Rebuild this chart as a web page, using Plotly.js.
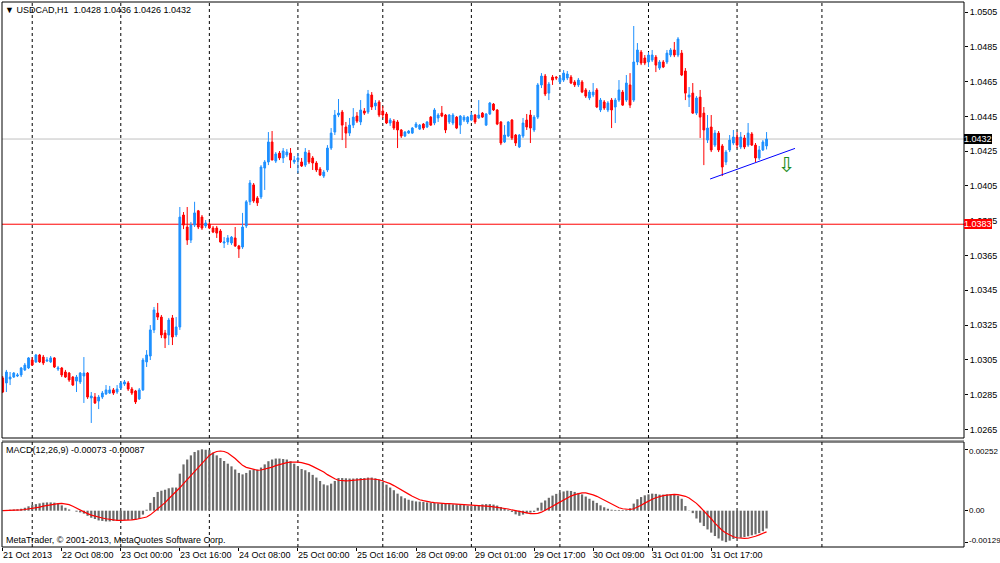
<!DOCTYPE html>
<html><head><meta charset="utf-8">
<script src="https://cdn.plot.ly/plotly-3.0.1.min.js"></script>
<style>html,body{margin:0;padding:0;background:#fff}#chart{width:1000px;height:563px}</style>
</head><body><div id="chart"></div>
<script>
// ---- USDCAD H1 candles (bar 0 = 21 Oct 2013 16:00) ----
const open = [
1.02946,1.02917,1.02940,1.02951,1.02957,1.02963,1.02992,1.03003,1.03049,1.03038,
1.03078,1.03066,1.03043,1.03038,1.03061,1.02997,1.03003,1.02980,1.02974,1.02951,
1.02928,1.02923,1.02957,1.02974,1.02831,1.02836,1.02813,1.02836,1.02854,1.02859,
1.02877,1.02865,1.02888,1.02911,1.02917,1.02882,1.02871,1.02825,1.02877,1.03038,
1.03072,1.03222,1.03319,1.03296,1.03204,1.03193,1.03291,1.03193,1.03239,1.03883,
1.03814,1.03739,1.03825,1.03907,1.03871,1.03820,1.03831,1.03808,1.03808,1.03791,
1.03722,1.03728,1.03722,1.03751,1.03705,1.03699,1.03820,1.03959,1.04056,1.03981,
1.03987,1.04153,1.04188,1.04303,1.04193,1.04239,1.04211,1.04228,1.04239,1.04188,
1.04199,1.04188,1.04170,1.04239,1.04211,1.04182,1.04147,1.04107,1.04142,1.04268,
1.04360,1.04458,1.04475,1.04389,1.04354,1.04400,1.04452,1.04418,1.04481,1.04475,
1.04573,1.04510,1.04533,1.04481,1.04464,1.04412,1.04423,1.04418,1.04372,1.04337,
1.04354,1.04354,1.04389,1.04377,1.04406,1.04389,1.04446,1.04412,1.04441,1.04469,
1.04458,1.04418,1.04412,1.04446,1.04400,1.04429,1.04418,1.04429,1.04458,1.04441,
1.04469,1.04400,1.04464,1.04521,1.04487,1.04418,1.04303,1.04337,1.04429,1.04343,
1.04274,1.04337,1.04429,1.04458,1.04372,1.04446,1.04631,1.04682,1.04584,1.04676,
1.04676,1.04648,1.04659,1.04671,1.04676,1.04648,1.04631,1.04648,1.04602,1.04556,
1.04573,1.04602,1.04487,1.04533,1.04487,1.04544,1.04504,1.04544,1.04590,1.04544,
1.04631,1.04544,1.04763,1.04820,1.04786,1.04763,1.04774,1.04791,1.04728,1.04763,
1.04763,1.04803,1.04832,1.04803,1.04814,1.04711,1.04561,1.04584,1.04469,1.04561,
1.04469,1.04314,1.04389,1.04285,1.04354,1.04280,1.04188,1.04257,1.04297,1.04331,
1.04274,1.04326,1.04285,1.04349,1.04285,1.04211,1.04257,1.04280];
const high = [
1.02957,1.02992,1.02980,1.02980,1.02974,1.03009,1.03032,1.03066,1.03066,1.03084,
1.03084,1.03078,1.03066,1.03072,1.03066,1.03015,1.03009,1.02992,1.02980,1.02957,
1.02963,1.02980,1.03066,1.02980,1.02865,1.02859,1.02848,1.02871,1.02905,1.02900,
1.02888,1.02905,1.02928,1.02934,1.02928,1.02894,1.02877,1.02888,1.03061,1.03106,
1.03250,1.03354,1.03377,1.03308,1.03222,1.03291,1.03308,1.03296,1.03929,1.03900,
1.03929,1.03843,1.03959,1.03912,1.03883,1.03854,1.03843,1.03820,1.03820,1.03802,
1.03756,1.03768,1.03762,1.03814,1.03711,1.03895,1.03969,1.04084,1.04067,1.03992,
1.04170,1.04199,1.04360,1.04366,1.04245,1.04251,1.04268,1.04262,1.04268,1.04222,
1.04239,1.04211,1.04268,1.04257,1.04222,1.04193,1.04159,1.04142,1.04285,1.04383,
1.04487,1.04550,1.04487,1.04418,1.04441,1.04498,1.04475,1.04544,1.04498,1.04602,
1.04590,1.04544,1.04544,1.04510,1.04475,1.04441,1.04435,1.04429,1.04377,1.04366,
1.04372,1.04389,1.04418,1.04406,1.04412,1.04423,1.04452,1.04498,1.04469,1.04510,
1.04464,1.04464,1.04469,1.04452,1.04458,1.04458,1.04452,1.04475,1.04464,1.04544,
1.04475,1.04469,1.04533,1.04527,1.04492,1.04423,1.04400,1.04423,1.04435,1.04349,
1.04349,1.04441,1.04464,1.04487,1.04458,1.04642,1.04699,1.04694,1.04648,1.04688,
1.04682,1.04682,1.04717,1.04711,1.04688,1.04659,1.04671,1.04659,1.04613,1.04602,
1.04642,1.04613,1.04556,1.04544,1.04538,1.04556,1.04556,1.04659,1.04602,1.04688,
1.04699,1.04970,1.04872,1.04832,1.04803,1.04820,1.04832,1.04803,1.04774,1.04774,
1.04832,1.04843,1.04878,1.04906,1.04832,1.04728,1.04619,1.04642,1.04567,1.04602,
1.04504,1.04458,1.04458,1.04372,1.04366,1.04291,1.04257,1.04343,1.04372,1.04360,
1.04360,1.04343,1.04412,1.04360,1.04297,1.04280,1.04314,1.04360];
const low = [
1.02859,1.02865,1.02905,1.02946,1.02951,1.02951,1.02986,1.02997,1.03015,1.03032,
1.03032,1.03020,1.03038,1.03032,1.03003,1.02986,1.02951,1.02946,1.02923,1.02900,
1.02865,1.02911,1.02802,1.02825,1.02687,1.02796,1.02767,1.02825,1.02848,1.02854,
1.02848,1.02854,1.02877,1.02900,1.02871,1.02848,1.02796,1.02819,1.02871,1.03009,
1.03049,1.03204,1.03279,1.03175,1.03118,1.03135,1.03135,1.03181,1.03222,1.03802,
1.03711,1.03722,1.03814,1.03802,1.03797,1.03808,1.03802,1.03779,1.03751,1.03722,
1.03693,1.03711,1.03711,1.03699,1.03636,1.03688,1.03808,1.03940,1.03953,1.03935,
1.03975,1.04027,1.04170,1.04199,1.04182,1.04199,1.04182,1.04216,1.04153,1.04176,
1.04124,1.04159,1.04159,1.04176,1.04142,1.04130,1.04107,1.04096,1.04130,1.04257,
1.04343,1.04446,1.04314,1.04268,1.04337,1.04383,1.04412,1.04400,1.04458,1.04464,
1.04487,1.04487,1.04446,1.04441,1.04406,1.04395,1.04372,1.04268,1.04326,1.04331,
1.04349,1.04349,1.04383,1.04372,1.04372,1.04383,1.04395,1.04400,1.04418,1.04446,
1.04354,1.04406,1.04400,1.04377,1.04349,1.04418,1.04406,1.04423,1.04406,1.04435,
1.04441,1.04395,1.04458,1.04481,1.04400,1.04285,1.04297,1.04331,1.04314,1.04280,
1.04268,1.04326,1.04372,1.04297,1.04360,1.04435,1.04613,1.04567,1.04544,1.04631,
1.04659,1.04636,1.04648,1.04659,1.04636,1.04619,1.04619,1.04584,1.04556,1.04544,
1.04561,1.04498,1.04475,1.04487,1.04475,1.04383,1.04412,1.04533,1.04510,1.04533,
1.04498,1.04533,1.04745,1.04745,1.04745,1.04734,1.04763,1.04705,1.04717,1.04728,
1.04751,1.04791,1.04791,1.04791,1.04682,1.04544,1.04504,1.04464,1.04458,1.04326,
1.04170,1.04297,1.04245,1.04274,1.04245,1.04107,1.04170,1.04245,1.04285,1.04268,
1.04262,1.04262,1.04274,1.04280,1.04188,1.04199,1.04251,1.04260];
const close = [
1.02865,1.02980,1.02951,1.02974,1.02963,1.03003,1.03020,1.03061,1.03020,1.03078,
1.03038,1.03032,1.03049,1.03061,1.03009,1.03003,1.02963,1.02951,1.02934,1.02905,
1.02951,1.02974,1.02974,1.02836,1.02842,1.02802,1.02836,1.02859,1.02877,1.02877,
1.02859,1.02882,1.02917,1.02923,1.02882,1.02859,1.02808,1.02877,1.03049,1.03078,
1.03222,1.03337,1.03296,1.03193,1.03175,1.03279,1.03181,1.03239,1.03871,1.03825,
1.03739,1.03825,1.03895,1.03814,1.03808,1.03837,1.03808,1.03785,1.03779,1.03728,
1.03728,1.03751,1.03756,1.03705,1.03688,1.03814,1.03959,1.04067,1.03964,1.03953,
1.04159,1.04188,1.04303,1.04199,1.04234,1.04211,1.04251,1.04245,1.04199,1.04199,
1.04211,1.04165,1.04245,1.04188,1.04182,1.04142,1.04113,1.04130,1.04268,1.04354,
1.04458,1.04469,1.04400,1.04354,1.04400,1.04446,1.04423,1.04487,1.04469,1.04579,
1.04504,1.04527,1.04458,1.04458,1.04412,1.04429,1.04383,1.04372,1.04337,1.04360,
1.04366,1.04383,1.04406,1.04400,1.04383,1.04418,1.04400,1.04487,1.04458,1.04452,
1.04372,1.04458,1.04458,1.04383,1.04452,1.04446,1.04446,1.04458,1.04418,1.04458,
1.04446,1.04464,1.04527,1.04487,1.04406,1.04297,1.04343,1.04418,1.04326,1.04297,
1.04343,1.04412,1.04389,1.04383,1.04446,1.04631,1.04682,1.04579,1.04636,1.04659,
1.04671,1.04671,1.04699,1.04694,1.04642,1.04631,1.04659,1.04590,1.04567,1.04590,
1.04590,1.04504,1.04544,1.04498,1.04527,1.04487,1.04544,1.04602,1.04515,1.04642,
1.04515,1.04763,1.04832,1.04757,1.04757,1.04803,1.04803,1.04745,1.04763,1.04734,
1.04814,1.04832,1.04803,1.04895,1.04688,1.04584,1.04573,1.04469,1.04556,1.04446,
1.04372,1.04383,1.04257,1.04354,1.04257,1.04159,1.04245,1.04314,1.04331,1.04285,
1.04331,1.04274,1.04354,1.04285,1.04211,1.04257,1.04303,1.04320];

// ---- MACD(12,26,9): histogram (main) and signal ----
const macdMain = [
0.00002,0.00003,0.00004,0.00005,0.00006,0.00008,0.00012,0.00018,0.00023,0.00027,
0.00030,0.00033,0.00034,0.00034,0.00033,0.00029,0.00022,0.00012,0.00005,0.00000,
-0.00004,-0.00007,-0.00012,-0.00021,-0.00029,-0.00034,-0.00040,-0.00042,-0.00044,-0.00044,
-0.00042,-0.00041,-0.00040,-0.00038,-0.00038,-0.00037,-0.00037,-0.00033,-0.00016,0.00004,
0.00032,0.00056,0.00077,0.00082,0.00086,0.00092,0.00095,0.00095,0.00152,0.00190,
0.00210,0.00227,0.00241,0.00248,0.00252,0.00250,0.00248,0.00238,0.00227,0.00216,
0.00204,0.00193,0.00182,0.00169,0.00155,0.00149,0.00155,0.00166,0.00169,0.00169,
0.00177,0.00190,0.00203,0.00210,0.00214,0.00214,0.00212,0.00210,0.00203,0.00193,
0.00182,0.00171,0.00166,0.00158,0.00147,0.00136,0.00122,0.00108,0.00104,0.00111,
0.00122,0.00134,0.00134,0.00133,0.00132,0.00132,0.00133,0.00134,0.00134,0.00136,
0.00136,0.00133,0.00127,0.00118,0.00107,0.00095,0.00084,0.00070,0.00059,0.00051,
0.00045,0.00041,0.00038,0.00037,0.00036,0.00034,0.00033,0.00032,0.00030,0.00029,
0.00029,0.00027,0.00026,0.00026,0.00025,0.00023,0.00021,0.00019,0.00021,0.00023,
0.00026,0.00027,0.00027,0.00025,0.00021,0.00015,0.00010,0.00004,-0.00005,-0.00015,
-0.00021,-0.00016,-0.00011,-0.00008,-0.00005,0.00012,0.00033,0.00042,0.00053,0.00062,
0.00069,0.00074,0.00079,0.00082,0.00081,0.00077,0.00073,0.00067,0.00058,0.00049,
0.00041,0.00032,0.00022,0.00014,0.00008,0.00004,0.00003,0.00003,0.00003,0.00004,
0.00010,0.00029,0.00047,0.00056,0.00063,0.00067,0.00070,0.00069,0.00066,0.00066,
0.00067,0.00067,0.00066,0.00062,0.00049,0.00019,0.00001,-0.00010,-0.00032,-0.00049,
-0.00063,-0.00077,-0.00090,-0.00104,-0.00114,-0.00123,-0.00129,-0.00123,-0.00116,-0.00111,
-0.00111,-0.00108,-0.00105,-0.00101,-0.00097,-0.00092,-0.00084,-0.00073];
const macdSignal = [
0.00000,0.00000,0.00001,0.00001,0.00002,0.00003,0.00005,0.00007,0.00009,0.00012,
0.00015,0.00019,0.00022,0.00025,0.00027,0.00029,0.00030,0.00029,0.00025,0.00018,
0.00010,0.00002,-0.00005,-0.00012,-0.00018,-0.00023,-0.00027,-0.00030,-0.00033,-0.00036,
-0.00038,-0.00040,-0.00040,-0.00040,-0.00039,-0.00038,-0.00036,-0.00033,-0.00030,-0.00026,
-0.00017,-0.00005,0.00006,0.00018,0.00033,0.00049,0.00063,0.00077,0.00094,0.00111,
0.00128,0.00145,0.00162,0.00179,0.00197,0.00214,0.00227,0.00237,0.00243,0.00245,
0.00243,0.00237,0.00226,0.00214,0.00200,0.00186,0.00178,0.00173,0.00169,0.00166,
0.00167,0.00170,0.00175,0.00179,0.00185,0.00190,0.00194,0.00197,0.00199,0.00200,
0.00199,0.00197,0.00194,0.00189,0.00182,0.00175,0.00167,0.00159,0.00148,0.00138,
0.00131,0.00125,0.00123,0.00122,0.00123,0.00125,0.00127,0.00129,0.00130,0.00130,
0.00130,0.00130,0.00127,0.00122,0.00117,0.00111,0.00103,0.00095,0.00086,0.00077,
0.00068,0.00059,0.00051,0.00045,0.00041,0.00037,0.00035,0.00033,0.00031,0.00030,
0.00029,0.00029,0.00028,0.00027,0.00026,0.00026,0.00025,0.00025,0.00024,0.00023,
0.00022,0.00020,0.00018,0.00016,0.00014,0.00012,0.00010,0.00007,0.00003,0.00000,
-0.00004,-0.00007,-0.00010,-0.00012,-0.00012,-0.00011,-0.00006,0.00001,0.00009,0.00018,
0.00027,0.00036,0.00045,0.00053,0.00060,0.00066,0.00070,0.00073,0.00073,0.00070,
0.00065,0.00059,0.00051,0.00042,0.00034,0.00026,0.00018,0.00012,0.00008,0.00005,
0.00005,0.00008,0.00014,0.00022,0.00031,0.00040,0.00047,0.00053,0.00058,0.00062,
0.00064,0.00066,0.00067,0.00066,0.00063,0.00059,0.00052,0.00042,0.00030,0.00015,
0.00000,-0.00015,-0.00033,-0.00051,-0.00067,-0.00081,-0.00092,-0.00101,-0.00107,-0.00111,
-0.00113,-0.00114,-0.00113,-0.00110,-0.00105,-0.00099,-0.00093,-0.00087];

// ---- axis labels / levels ----
const timeLabelBars = [0,16,32,48,64,80,96,112,128,144,160,176,192];
const timeLabels = ["21 Oct 2013","22 Oct 08:00","23 Oct 00:00","23 Oct 16:00","24 Oct 08:00","25 Oct 00:00","25 Oct 16:00","28 Oct 09:00","29 Oct 01:00","29 Oct 17:00","30 Oct 09:00","31 Oct 01:00","31 Oct 17:00"];
const dayStartBars = [8,32,56,80,103,127,151,175,199,222];
const priceTicks = [1.0265,1.0285,1.0305,1.0325,1.0345,1.0365,1.0385,1.0405,1.0425,1.0445,1.0465,1.0485,1.0505];
const macdTicks = [0.00252,0,-0.00129];
const macdTickText = ["0.00252","0.00","-0.00129"];
const bidPrice = 1.0432;
const levelPrice = 1.0383;
const trendBars = [191.7,214.7];
const trendPrices = [1.04090,1.04266];
const arrowBar = 212.5, arrowPrice = 1.04173;
const headerText = "\u25BC USDCAD,H1\u00a0\u00a01.0428 1.0436 1.0426 1.0432";
const macdText = "MACD(12,26,9) -0.00073 -0.00087";
const copyText = "MetaTrader, \u00a9 2001-2013, MetaQuotes Software Corp.";

const bars = open.map((_, i) => i);
const FONT = "Liberation Sans, Arial, sans-serif";

const traces = [
  {type:'candlestick', x:bars, open, high, low, close, xaxis:'x', yaxis:'y',
   increasing:{line:{color:'#1E90FF'}, fillcolor:'#1E90FF'},
   decreasing:{line:{color:'#FF0000'}, fillcolor:'#FF0000'},
   line:{width:1}, whiskerwidth:0, hoverinfo:'skip'},
  {type:'bar', x:bars, y:macdMain, xaxis:'x', yaxis:'y2', marker:{color:'#6a6a6a', line:{width:0}}, hoverinfo:'skip'},
  {type:'scatter', mode:'lines', x:bars, y:macdSignal, xaxis:'x', yaxis:'y2', line:{color:'#FF0000', width:1.2}, hoverinfo:'skip'}
];

const shapes = [];
dayStartBars.forEach(d => {
  ['y domain','y2 domain'].forEach(yr => shapes.push({type:'line', xref:'x', yref:yr, x0:d, x1:d, y0:0, y1:1,
    line:{color:'#000', width:1, dash:'3px,3px'}, layer:'below'}));
});
shapes.push({type:'line', xref:'paper', yref:'y', x0:0, x1:1, y0:bidPrice, y1:bidPrice, line:{color:'#C0C0C0', width:1}, layer:'below'});
shapes.push({type:'line', xref:'paper', yref:'y', x0:0, x1:1, y0:levelPrice, y1:levelPrice, line:{color:'#FF0000', width:1}, layer:'below'});
shapes.push({type:'line', xref:'x', yref:'y', x0:trendBars[0], x1:trendBars[1], y0:trendPrices[0], y1:trendPrices[1], line:{color:'#0000FF', width:1}});
shapes.push({type:'rect', xref:'paper', yref:'y domain', x0:0, x1:1, y0:0, y1:1, line:{color:'#000', width:1}, fillcolor:'rgba(0,0,0,0)'});
shapes.push({type:'rect', xref:'paper', yref:'y2 domain', x0:0, x1:1, y0:0, y1:1, line:{color:'#000', width:1}, fillcolor:'rgba(0,0,0,0)'});
// grey separator between panes
shapes.push({type:'line', xref:'paper', yref:'paper', x0:0, x1:1, y0:0.1955, y1:0.1955, line:{color:'#A0A0A0', width:1}});

const annotations = [
  {xref:'paper', yref:'paper', x:0, y:1, xanchor:'left', yanchor:'top', xshift:1, yshift:-1, text:headerText, showarrow:false, font:{family:FONT, size:9, color:'#000'}},
  {xref:'paper', yref:'y2 domain', x:0, y:1, xanchor:'left', yanchor:'top', xshift:2, yshift:-1, text:macdText, showarrow:false, font:{family:FONT, size:9, color:'#000'}},
  {xref:'paper', yref:'y2 domain', x:0, y:0, xanchor:'left', yanchor:'bottom', xshift:2, yshift:0, text:copyText, showarrow:false, font:{family:FONT, size:9, color:'#000'}},
  {xref:'paper', yref:'y', x:1, y:bidPrice, xanchor:'left', yanchor:'middle', xshift:0, text:bidPrice.toFixed(4), showarrow:false, bgcolor:'#000', borderpad:0, borderwidth:0, font:{family:FONT, size:9, color:'#fff'}},
  {xref:'paper', yref:'y', x:1, y:levelPrice, xanchor:'left', yanchor:'middle', xshift:0, text:levelPrice.toFixed(4), showarrow:false, bgcolor:'#FF0000', borderpad:0, borderwidth:0, font:{family:FONT, size:9, color:'#fff'}},
  {xref:'x', yref:'y', x:arrowBar, y:arrowPrice, text:'\u21E9', showarrow:false, font:{family:'DejaVu Sans', size:21, color:'#1a8a1a'}}
];
// MACD scale labels (placed as text so the lowest one stays inside the picture)
macdTicks.forEach((v, k) => annotations.push({xref:'paper', yref:'y2', x:1, y:v, xanchor:'left', yanchor:'middle',
  xshift:3, yshift:(k === 0 ? -2 : (k === 2 ? 2 : 0)), text:macdTickText[k], showarrow:false, font:{family:FONT, size:8, color:'#000'}}));
timeLabelBars.forEach((b, k) => annotations.push({xref:'x', yref:'paper', x:b, y:0, xanchor:'left', yanchor:'top', xshift:-2, yshift:-1,
  text:timeLabels[k], showarrow:false, font:{family:FONT, size:9, color:'#000'}}));

const layout = {
  width:1000, height:563, margin:{l:2, r:36, t:2, b:16, pad:0},
  paper_bgcolor:'#fff', plot_bgcolor:'#fff', showlegend:false, hovermode:false,
  boxgap:0.32, bargap:0.4,
  font:{family:FONT, size:9, color:'#000'},
  xaxis:{anchor:'y2', range:[-0.19, 260.5], rangeslider:{visible:false}, showgrid:false, zeroline:false,
    tickmode:'array', tickvals:timeLabelBars, ticks:'outside', ticklen:3, tickcolor:'#000', showticklabels:false, showline:false},
  yaxis:{domain:[0.2, 1], anchor:'x', side:'right', range:[1.026005, 1.05108], showgrid:false, zeroline:false,
    tickmode:'array', tickvals:priceTicks, ticktext:priceTicks.map(v => v.toFixed(4)), ticks:'outside', ticklen:3, tickcolor:'#000',
    tickfont:{family:FONT, size:9, color:'#000'}, showline:false},
  yaxis2:{domain:[0, 0.1927], anchor:'x', side:'right', range:[-0.00149, 0.00282], showgrid:false, zeroline:false,
    tickmode:'array', tickvals:macdTicks, ticks:'outside', ticklen:3, tickcolor:'#000', showticklabels:false, showline:false},
  shapes, annotations
};

Plotly.newPlot('chart', traces, layout, {displayModeBar:false, staticPlot:true});
</script>
</body></html>
